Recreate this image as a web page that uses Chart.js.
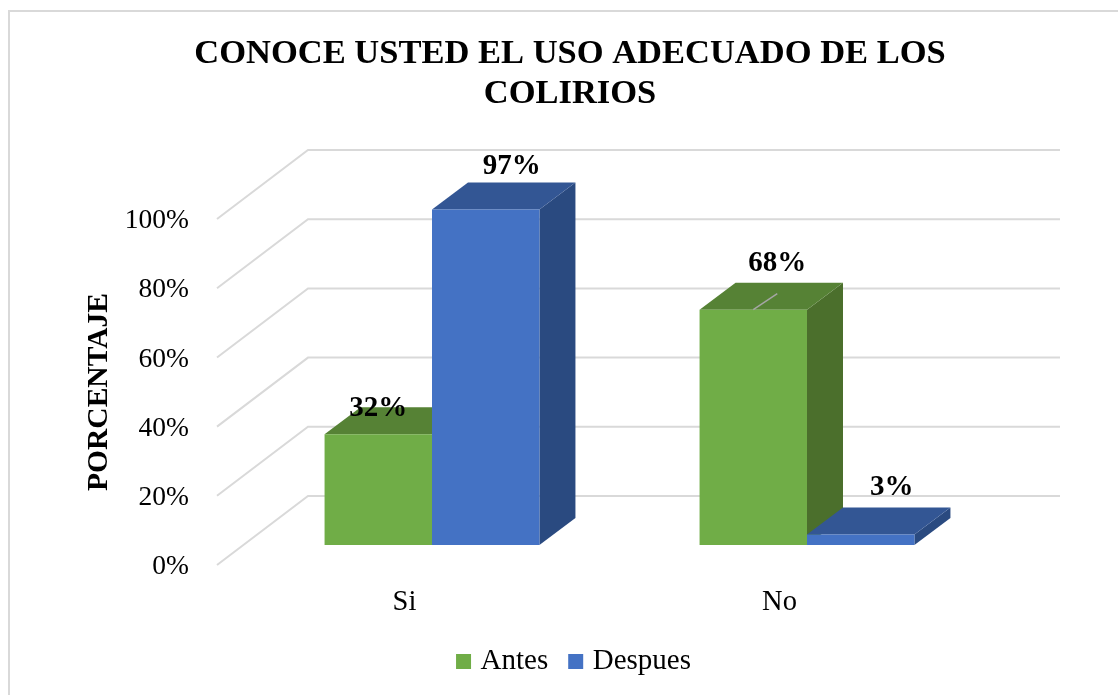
<!DOCTYPE html>
<html>
<head>
<meta charset="utf-8">
<style>
html,body{margin:0;padding:0;background:#fff;overflow:hidden;width:1118px;height:695px}
canvas{display:block;position:absolute;left:0;top:0}
</style>
<script src="https://cdn.jsdelivr.net/npm/chart.js@4/dist/chart.umd.min.js"></script>
</head>
<body>
<canvas id="c" width="1140" height="695" style="width:1140px;height:695px"></canvas>
<script>
const categories = ['Si', 'No'];
const antes = [32, 68];
const despues = [97, 3];
const titleLines = ['CONOCE USTED EL USO ADECUADO DE LOS', 'COLIRIOS'];
const yAxisTitle = 'PORCENTAJE';
const seriesNames = ['Antes', 'Despues'];

const SERIF = '"Liberation Serif", serif';
const FRONT = ['#70AD47', '#4472C4'];
const TOP = ['#568235', '#335694'];
const SIDE = ['#4B6F2C', '#2A4A80'];
const GRID = '#D9D9D9';
// 3D projection: wall depth, bar depth and where the bars sit inside the depth
const WALL = {dx: 91, dy: -69, right: 1060};
const BAR = {dx: 36, dy: -27, shiftX: 27.5, shiftY: -20};
// label offset from the centre/top of each front face
const LABEL_OFF = [[[0, -26], [24, -46]], [[26, -43], [31, -47]]];
const LEGEND_SHIFT = 6;

const threeD = {
  id: 'threeD',
  afterLayout(chart) {
    chart.legend.left += LEGEND_SHIFT;
    chart.legend.right += LEGEND_SHIFT;
  },
  beforeDraw(chart) {
    const ctx = chart.ctx;
    ctx.save();
    ctx.strokeStyle = GRID;
    ctx.lineWidth = 2;
    ctx.beginPath();
    ctx.moveTo(9, 695); ctx.lineTo(9, 11); ctx.lineTo(1140, 11);
    ctx.stroke();
    ctx.restore();
  },
  beforeDatasetsDraw(chart) {
    const ctx = chart.ctx, ys = chart.scales.y, area = chart.chartArea;
    ctx.save();
    ctx.strokeStyle = GRID;
    ctx.lineWidth = 2;
    ys.ticks.forEach(t => {
      const y = ys.getPixelForValue(t.value);
      ctx.beginPath();
      ctx.moveTo(area.left, y);
      ctx.lineTo(area.left + WALL.dx, y + WALL.dy);
      ctx.lineTo(WALL.right, y + WALL.dy);
      ctx.stroke();
    });
    ctx.restore();
    ctx.save();
    ctx.translate(BAR.shiftX, BAR.shiftY);
    [0, 1].forEach(i => {
      chart.getDatasetMeta(i).data.forEach(el => {
        const l = el.x - el.width / 2, r = el.x + el.width / 2, t = el.y, b = el.base;
        ctx.fillStyle = SIDE[i];
        ctx.beginPath();
        ctx.moveTo(r, t); ctx.lineTo(r + BAR.dx, t + BAR.dy);
        ctx.lineTo(r + BAR.dx, b + BAR.dy); ctx.lineTo(r, b);
        ctx.closePath(); ctx.fill();
        ctx.fillStyle = TOP[i];
        ctx.beginPath();
        ctx.moveTo(l, t); ctx.lineTo(l + BAR.dx, t + BAR.dy);
        ctx.lineTo(r + BAR.dx, t + BAR.dy); ctx.lineTo(r, t);
        ctx.closePath(); ctx.fill();
      });
    });
  },
  afterDatasetsDraw(chart) {
    const ctx = chart.ctx;
    // still inside the bar translation
    const lead = chart.getDatasetMeta(0).data[1];
    ctx.strokeStyle = '#A6A6A6';
    ctx.lineWidth = 1.5;
    ctx.beginPath();
    ctx.moveTo(lead.x, lead.y);
    ctx.lineTo(lead.x + 24, lead.y - 16);
    ctx.stroke();
    ctx.fillStyle = '#000';
    ctx.font = 'bold 29px ' + SERIF;
    ctx.textAlign = 'center';
    ctx.textBaseline = 'middle';
    [0, 1].forEach(i => {
      chart.getDatasetMeta(i).data.forEach((el, j) => {
        const off = LABEL_OFF[i][j];
        ctx.fillText(chart.data.datasets[i].data[j] + '%', el.x + off[0], el.y + off[1]);
      });
    });
    ctx.restore();
  }
};

new Chart(document.getElementById('c'), {
  type: 'bar',
  data: {
    labels: categories,
    datasets: [
      {label: seriesNames[0], data: antes, backgroundColor: FRONT[0], categoryPercentage: 0.573, barPercentage: 1},
      {label: seriesNames[1], data: despues, backgroundColor: FRONT[1], categoryPercentage: 0.573, barPercentage: 1}
    ]
  },
  plugins: [threeD],
  options: {
    responsive: false,
    animation: false,
    layout: {padding: {bottom: 9}},
    plugins: {
      tooltip: {enabled: false},
      title: {
        display: true,
        text: titleLines,
        color: '#000',
        font: {family: SERIF, size: 34.5, weight: 'bold', lineHeight: 1.16},
        padding: {top: 34, bottom: 105}
      },
      legend: {
        position: 'bottom',
        labels: {
          boxWidth: 5, boxHeight: 5, padding: 25, color: '#000',
          font: {family: SERIF, size: 29},
          generateLabels: chart => chart.data.datasets.map((d, i) => ({
            text: d.label, fillStyle: FRONT[i], strokeStyle: FRONT[i],
            lineWidth: 10, datasetIndex: i, fontColor: '#000'
          }))
        }
      }
    },
    scales: {
      x: {
        grid: {display: false, drawTicks: false},
        border: {display: false},
        ticks: {color: '#000', font: {family: SERIF, size: 28.5}, padding: 20, maxRotation: 0},
        afterFit(s) { s.height = 57; }
      },
      y: {
        min: 0, max: 100,
        grid: {display: false, drawTicks: false},
        border: {display: false},
        ticks: {stepSize: 20, color: '#000', font: {family: SERIF, size: 27.5}, padding: 28, labelOffset: 2, callback: v => v + '%'},
        title: {
          display: true, text: yAxisTitle, color: '#000',
          font: {family: SERIF, size: 29.5, weight: 'bold', lineHeight: 1.2},
          padding: {top: 82, bottom: 0}
        },
        afterFit(s) { s.width = 217; }
      },
      spacer: {
        type: 'linear', position: 'right',
        grid: {display: false, drawTicks: false},
        border: {display: false},
        ticks: {display: false},
        afterFit(s) { s.width = 173; }
      }
    }
  }
});
</script>
</body>
</html>
